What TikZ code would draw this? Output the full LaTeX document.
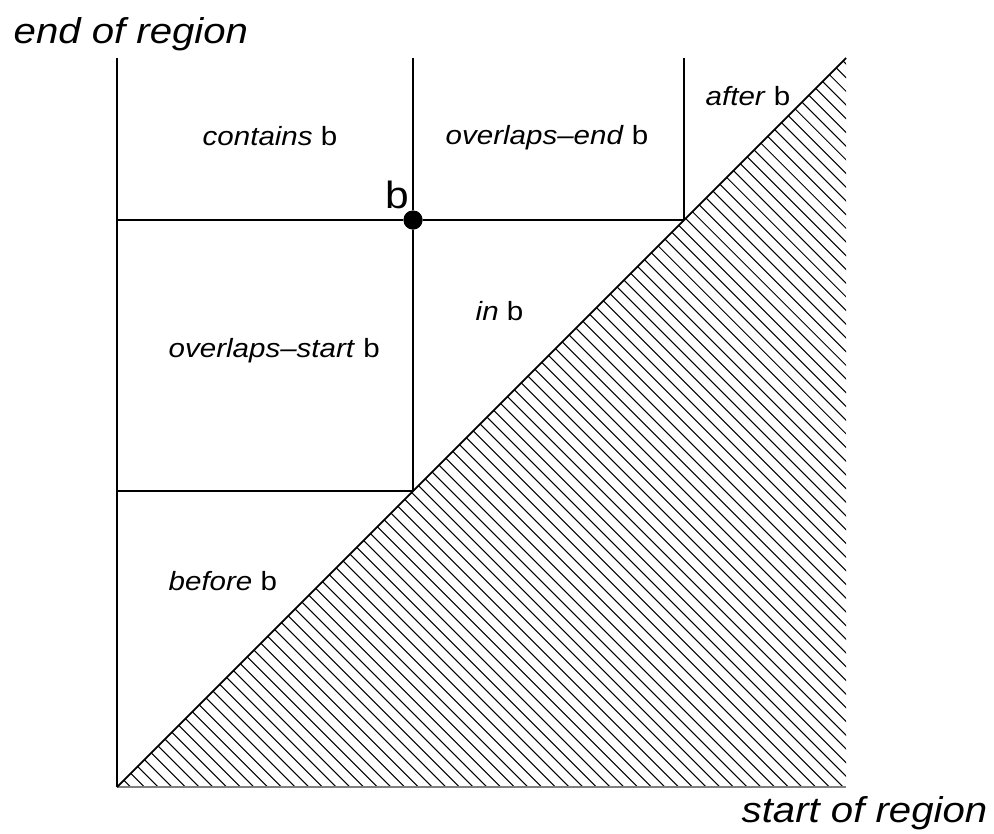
\documentclass[tikz,border=0pt]{standalone}
\usepackage{fontspec}
\setmainfont{Liberation Sans}[FakeStretch=1.12]
\usetikzlibrary{positioning}

\tikzset{
  region/.style={anchor=base west, inner sep=0pt, font=\fontsize{7.5}{9}\selectfont},
  axislabel/.style={anchor=base west, inner sep=0pt, font=\fontsize{10.2}{12}\selectfont\itshape},
  bound/.style={line width=0.5pt},
  hatchline/.style={line width=0.3pt},
  dot/.style={circle, fill=black, inner sep=0pt, minimum size=1.9mm},
}

\begin{document}
\begin{tikzpicture}
    \useasboundingbox (-1.17,-0.46) rectangle (8.77,7.87);

    % Corners of the plane
    \coordinate (o) at (0,0);
    \coordinate (top) at (0,7.29);
    \coordinate (right) at (7.29,0);
    \coordinate (diag) at (7.29,7.29);

    % Point b and the lines through it
    \node[dot] (b) at (2.96,5.67) {};
    \coordinate (btop) at (2.96,7.29);
    \coordinate (bleft) at (0,5.67);
    \coordinate (bdiag) at (5.67,5.67);
    \coordinate (etop) at (5.67,7.29);
    \coordinate (sdiag) at (2.96,2.96);
    \coordinate (sleft) at (0,2.96);

    % Hatched half below the diagonal
    \begin{scope}
        \clip (o) -- (right) -- (diag) -- cycle;
        \foreach \k in {1,...,108}
            \draw[hatchline] ({0.137*\k-7.4},7.4) -- ({0.137*\k},0);
    \end{scope}

    % Axes and diagonal
    \draw[bound] (top) -- (o);
    \draw[line width=0.7pt, gray] (o) -- (right);
    \draw[bound] (o) -- (diag);

    % Boundaries of the regions
    \draw[bound] (bleft) -- (b) -- (bdiag);
    \draw[bound] (btop) -- (b) -- (sdiag);
    \draw[bound] (sleft) -- (sdiag);
    \draw[bound] (etop) -- (bdiag);
    \node[dot] at (b) {};

    % Labels
    \node[axislabel] (endlab) at (-1.04,7.44) {end of region};
    \node[axislabel] (startlab) at (6.24,-0.35) {start of region};
    \node[anchor=base east, inner sep=0pt, font=\fontsize{10.8}{13}\selectfont] (blab) at (2.93,5.79) {b};
    \node[region] (contains) at (0.85,6.42) {\textit{contains} b};
    \node[region] (ovend) at (3.28,6.43) {\textit{overlaps--end} b};
    \node[region] (ovstart) at (0.51,4.30) {\textit{overlaps--start} b};
    \node[region] (in) at (3.58,4.67) {\textit{in} b};
    \node[region] (before) at (0.51,1.97) {\textit{before} b};
    \node[region] (after) at (5.88,6.82) {\textit{after} b};
\end{tikzpicture}
\end{document}
